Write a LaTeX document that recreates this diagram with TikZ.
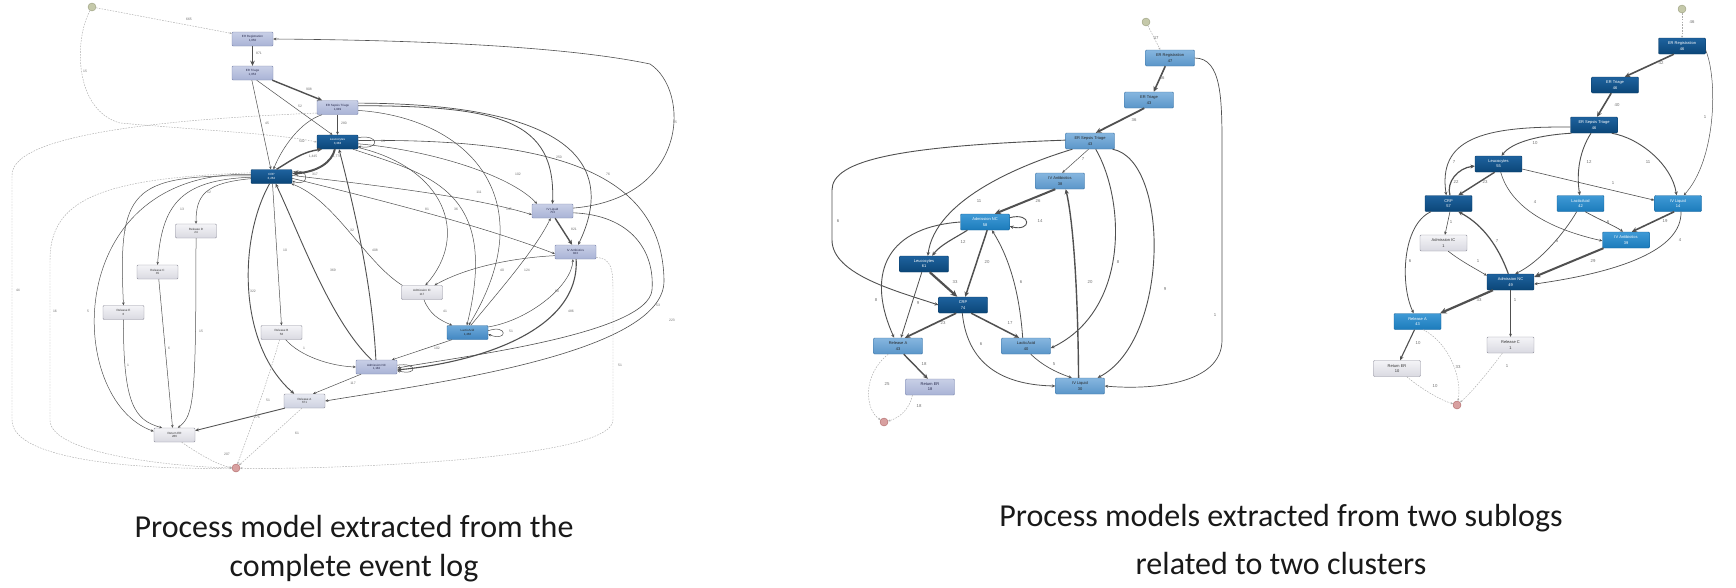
\documentclass[tikz,border=0pt]{standalone}
\usepackage{fontspec}
\setmainfont{Carlito}
\newfontfamily\ar{Liberation Sans}
\usetikzlibrary{arrows.meta}
\definecolor{lavT}{HTML}{C8CFE6}\definecolor{lavB}{HTML}{A9B3D6}\definecolor{lavD}{HTML}{7C87AE}\definecolor{lavX}{HTML}{26284A}
\definecolor{dkT}{HTML}{1E629E}\definecolor{dkB}{HTML}{0B4678}\definecolor{dkD}{HTML}{083A66}
\definecolor{medT}{HTML}{6FAADA}\definecolor{medB}{HTML}{4287C2}\definecolor{medD}{HTML}{2E6C9F}
\definecolor{grT}{HTML}{F4F4F7}\definecolor{grB}{HTML}{D9D9E1}\definecolor{grD}{HTML}{8F8F9C}
\definecolor{grlT}{HTML}{E8EAF2}\definecolor{grlB}{HTML}{CDD1E0}
\definecolor{mdT}{HTML}{86B6DF}\definecolor{mdB}{HTML}{5B96C9}\definecolor{mdD}{HTML}{3C73A4}
\definecolor{brtT}{HTML}{3F9AD6}\definecolor{brtB}{HTML}{1C7BBB}\definecolor{brtD}{HTML}{14629A}
\definecolor{edgeC}{HTML}{505050}\definecolor{dashC}{HTML}{ABABAB}\definecolor{labC}{HTML}{707070}
\definecolor{stF}{HTML}{C5C9AA}\definecolor{stD}{HTML}{9A9E7E}\definecolor{enF}{HTML}{D8A0A0}\definecolor{enD}{HTML}{B06868}
\begin{document}
\begin{tikzpicture}[x=1pt,y=-1pt,
 nd/.style={rectangle, rounded corners=1pt, inner sep=0pt, align=center, line width=0.4pt},
 lw/.style={nd, minimum width=41pt, minimum height=14pt, font=\ar\fontsize{3}{3.8}\selectfont},
 mw/.style={nd, minimum width=49pt, minimum height=16pt, font=\ar\fontsize{4}{5.2}\selectfont},
 rw/.style={nd, minimum width=47pt, minimum height=16pt, font=\ar\fontsize{4}{5.2}\selectfont},
 lav/.style={top color=lavT,bottom color=lavB,draw=lavD,text=lavX},
 dk/.style={top color=dkT,bottom color=dkB,draw=dkD,text=white},
 med/.style={top color=medT,bottom color=medB,draw=medD,text=black!85},
 gr/.style={top color=grT,bottom color=grB,draw=grD,text=black!80},
 grl/.style={top color=grlT,bottom color=grlB,draw=grD,text=black!80},
 mdb/.style={top color=mdT,bottom color=mdB,draw=mdD,text=black!85},
 brt/.style={top color=brtT,bottom color=brtB,draw=brtD,text=white},
 stc/.style={circle, minimum size=8pt, inner sep=0pt, fill=stF, draw=stD, line width=0.4pt},
 enc/.style={circle, minimum size=8pt, inner sep=0pt, fill=enF, draw=enD, line width=0.4pt},
 ed/.style={draw=edgeC, line width=#1, -{Stealth[length=1.8pt 2.2, width=1.6pt 2]}},
 ed/.default=0.5pt,
 dsh/.style={draw=dashC, line width=0.45pt, dash pattern=on 1.6pt off 1.2pt, -{Stealth[length=2.2pt, width=2pt]}},
 lb/.style={font=\ar\fontsize{3.4}{4}\selectfont, text=labC, inner sep=0.3pt},
 lbm/.style={font=\ar\fontsize{4.3}{5}\selectfont, text=labC, inner sep=0.3pt},
 capt/.style={font=\fontsize{32}{38}\selectfont, text=black!90, inner sep=0pt}
]
\useasboundingbox (0,0) rectangle (1736,587);
\fill[white] (0,0) rectangle (1736,587);

%%%%%%%% LEFT GRAPH
\node[lw,lav] (aREG) at (252.5,39) {ER Registration\\1,050};
\node[lw,lav] (aTRI) at (252.5,73) {ER Triage\\1,053};
\node[lw,lav] (aSEP) at (337.5,107.5) {ER Sepsis Triage\\1,049};
\node[lw,dk] (aLEU) at (337.5,142) {Leucocytes\\3,383};
\node[lw,dk] (aCRP) at (271.5,176.5) {CRP\\3,262};
\node[lw,gr] (aRD) at (196,231) {Release D\\24};
\node[lw,gr] (aRC) at (157.5,272) {Release C\\35};
\node[lw,gr] (aRE) at (123.5,312.5) {Release E\\6};
\node[lw,gr] (aRB) at (281.5,332.5) {Release B\\56};
\node[lw,grl] (aRA) at (304.5,401) {Release A\\671};
\node[lw,gr] (aRER) at (174.5,435) {Return ER\\286};
\node[lw,lav] (aIVL) at (552.5,211) {IV Liquid\\753};
\node[lw,lav] (aIVA) at (575.5,252) {IV Antibiotics\\823};
\node[lw,gr] (aAIC) at (422,292.5) {Admission IC\\117};
\node[lw,med] (aLAC) at (467.5,332.5) {LacticAcid\\1,466};
\node[lw,lav] (aANC) at (376.5,367) {Admission NC\\1,182};
\node[stc] (aS) at (92,7) {};
\node[enc] (aE) at (236,468) {};

\draw[dsh] (aS) -- (aREG.165);
\draw[dsh] (aS) .. controls (74,40) and (74,110) .. (120,123) .. controls (200,130) and (280,134) .. (aLEU.west);
\draw[ed=1.5pt] (aREG) -- (aTRI);
\draw[ed=1.4pt] (aTRI.-20) -- (aSEP.155);
\draw[ed] (aTRI.-60) -- (aLEU.125);
\draw[ed] (aTRI.-95) -- (aCRP.95);
\draw[ed] (aSEP.205) .. controls (300,122) and (282,148) .. (aCRP.75);
\draw[ed=0.6pt] (aSEP) -- (aLEU);
\draw[ed=1.4pt] (aCRP.55) .. controls (292,160) and (302,152) .. (aLEU.205);
\draw[ed=2pt] (aLEU.250) .. controls (332,162) and (318,172) .. (aCRP.8);
\draw[ed] (aCRP.12) .. controls (310,166) and (310,188) .. (aCRP.-12);
\draw[ed] (aLEU.12) .. controls (380,134) and (380,150) .. (aLEU.-12);
\draw[ed=0.8pt] (aSEP.5) .. controls (500,106) and (556,120) .. (aIVL.north);
\draw[ed=0.7pt] (aSEP.12) .. controls (590,104) and (612,175) .. (aIVA.70);
\draw[ed] (aSEP.-8) .. controls (470,118) and (545,200) .. (aLAC.80);
\draw[ed] (aLEU.-25) .. controls (430,175) and (500,190) .. (aLAC.95);
\draw[ed] (aLEU.-5) .. controls (430,150) and (510,175) .. (aIVL.155);
\draw[ed=0.6pt] (aLEU.4) .. controls (560,138) and (662,175) .. (664,280) .. controls (666,355) and (420,385) .. (aRA.east);
\draw[ed=0.6pt] (aIVL.-5) .. controls (630,215) and (655,250) .. (652,290) .. controls (648,335) and (450,358) .. (aANC.-3);
\draw[ed=0.6pt] (aIVL.8) .. controls (690,198) and (690,90) .. (650,64) .. controls (560,45) and (400,40) .. (aREG.east);
\draw[ed=0.9pt] (aANC.95) .. controls (372,280) and (352,200) .. (aLEU.-78);
\draw[ed=0.9pt] (aANC.125) .. controls (330,320) and (300,235) .. (aCRP.-60);
\draw[ed] (aAIC.160) .. controls (365,262) and (335,200) .. (aCRP.-20);
\draw[ed] (aCRP.-5) .. controls (380,200) and (480,225) .. (aIVA.185);
\draw[ed] (aLEU.-15) .. controls (445,168) and (470,235) .. (aAIC.65);
\draw[ed] (aCRP.3) .. controls (380,186) and (470,196) .. (aIVL.190);
\draw[ed=1.4pt] (aIVL.-70) -- (aIVA.115);
\draw[ed] (aIVA.190) .. controls (510,258) and (465,268) .. (aAIC.30);
\draw[ed] (aLAC.65) .. controls (500,290) and (535,250) .. (aIVL.-105);
\draw[ed] (aLAC.15) .. controls (530,320) and (572,285) .. (aIVA.-110);
\draw[ed=1.1pt] (aIVA.-85) .. controls (580,330) and (480,362) .. (aANC.-8);
\draw[ed] (aAIC.-75) .. controls (430,315) and (440,320) .. (aLAC.155);
\draw[ed] (aLAC.5) .. controls (508,324) and (508,342) .. (aLAC.-5);
\draw[ed] (aLAC.205) -- (aANC.25);
\draw[ed] (aANC.5) .. controls (418,362) and (418,376) .. (aANC.-10);
\draw[ed] (aANC.205) -- (aRA.40);
\draw[ed] (aRB.-60) .. controls (300,356) and (330,366) .. (aANC.180);
\draw[ed] (aCRP.-82) -- (aRB.north);
\draw[ed=0.9pt] (aCRP.-105) .. controls (238,240) and (238,345) .. (aRA.145);
\draw[ed] (aCRP.186) .. controls (205,183) and (196,195) .. (aRD.north);
\draw[ed] (aCRP.182) .. controls (180,180) and (162,205) .. (aRC.north);
\draw[ed] (aCRP.178) .. controls (130,175) and (118,190) .. (aRE.north);
\draw[ed] (aCRP.174) .. controls (60,170) and (65,400) .. (aRER.170);
\draw[ed] (aRE.south) .. controls (123,405) and (135,420) .. (aRER.150);
\draw[ed] (aRC.-80) -- (aRER.105);
\draw[ed] (aRD.south) .. controls (196,400) and (194,415) .. (aRER.65);
\draw[ed=0.9pt] (aRA.200) -- (aRER.12);
\draw[dsh] (aRB.-105) .. controls (268,380) and (250,430) .. (aE);
\draw[dsh] (aRA.-110) -- (aE);
\draw[dsh] (aRER.-45) .. controls (200,455) and (220,466) .. (aE);
\draw[dsh] (aIVA.-15) .. controls (612,258) and (613,270) .. (613,292) -- (613,420) .. controls (613,462) and (300,470) .. (aE);
\draw[dsh] (aSEP.195) .. controls (200,118) and (12,130) .. (12,175) -- (12,420) .. controls (12,462) and (150,470) .. (aE);
\draw[dsh] (aCRP.170) .. controls (100,178) and (50,200) .. (50,260) -- (50,420) .. controls (50,455) and (180,467) .. (aE);

\node[lb] (la1) at (189,19) {665};
\node[lb] (la2) at (85,71) {15};
\node[lb] (la3) at (259,53) {871};
\node[lb] (la4) at (309,89) {908};
\node[lb] (la5) at (300,106) {52};
\node[lb] (la6) at (267,123) {45};
\node[lb] (la7) at (302,141) {502};
\node[lb] (la8) at (313,157) {1,445};
\node[lb] (la9) at (315,174) {317};
\node[lb] (la10) at (344,123) {280};
\node[lb] (la11) at (383,141) {63};
\node[lb] (la12) at (337,157) {1,778};
\node[lb] (la13) at (559,157) {250};
\node[lb] (la14) at (518,174) {102};
\node[lb] (la15) at (608,174) {76};
\node[lb] (la16) at (479,192) {111};
\node[lb] (la17) at (427,209) {81};
\node[lb] (la18) at (456,209) {36};
\node[lb] (la19) at (509,209) {145};
\node[lb] (la20) at (209,192) {12};
\node[lb] (la21) at (182,209) {13};
\node[lb] (la22) at (675,122) {95};
\node[lb] (la23) at (125,230) {5};
\node[lb] (la24) at (285,250) {10};
\node[lb] (la25) at (253,291) {322};
\node[lb] (la26) at (88,311) {5};
\node[lb] (la27) at (55,311) {16};
\node[lb] (la28) at (18,290) {44};
\node[lb] (la29) at (201,331) {15};
\node[lb] (la30) at (169,348) {6};
\node[lb] (la31) at (128,365) {1};
\node[lb] (la32) at (304,348) {1};
\node[lb] (la33) at (268,400) {51};
\node[lb] (la34) at (257,417) {275};
\node[lb] (la35) at (574,229) {821};
\node[lb] (la36) at (352,230) {32};
\node[lb] (la37) at (375,250) {408};
\node[lb] (la38) at (333,270) {369};
\node[lb] (la39) at (502,270) {40};
\node[lb] (la40) at (527,270) {124};
\node[lb] (la41) at (445,311) {41};
\node[lb] (la42) at (557,291) {60};
\node[lb] (la43) at (571,311) {486};
\node[lb] (la44) at (511,331) {51};
\node[lb] (la45) at (437,348) {102};
\node[lb] (la46) at (353,383) {117};
\node[lb] (la47) at (620,365) {51};
\node[lb] (la48) at (658,305) {53};
\node[lb] (la49) at (672,320) {223};
\node[lb] (la50) at (297,433) {61};
\node[lb] (la51) at (227,454) {207};

%%%%%%%% MIDDLE GRAPH
\node[stc] (bS) at (1146,22) {};
\node[mw,mdb] (bREG) at (1170,58) {ER Registration\\47};
\node[mw,mdb] (bTRI) at (1149,100) {ER Triage\\43};
\node[mw,mdb] (bSEP) at (1090,141) {ER Sepsis Triage\\43};
\node[mw,mdb] (bIVA) at (1060,181) {IV Antibiotics\\38};
\node[mw,brt] (bANC) at (985,222) {Admission NC\\58};
\node[mw,dk] (bLEU) at (924,264) {Leucocytes\\61};
\node[mw,dk] (bCRP) at (963,305) {CRP\\74};
\node[mw,mdb] (bRA) at (898,346) {Release A\\43};
\node[mw,mdb] (bLAC) at (1026,346) {LacticAcid\\40};
\node[mw,lav] (bRER) at (930,387) {Return ER\\18};
\node[mw,mdb] (bIVL) at (1080,386) {IV Liquid\\30};
\node[enc] (bE) at (884,422) {};

\draw[dsh] (bS) -- (bREG.140);
\draw[ed=1.6pt] (bREG.-120) -- (bTRI.60);
\draw[ed=1.8pt] (bTRI.-120) -- (bSEP.55);
\draw[ed] (bSEP.-100) -- (bIVA.75);
\draw[ed=0.9pt] (bSEP.178) .. controls (900,146) and (832,160) .. (832,190) -- (832,240) .. controls (832,275) and (900,292) .. (bCRP.180);
\draw[ed=0.9pt] (bSEP.205) .. controls (1020,165) and (935,200) .. (bLEU.65);
\draw[ed=0.9pt] (bSEP.-55) .. controls (1125,200) and (1130,310) .. (bLAC.-5);
\draw[ed=0.9pt] (bSEP.-20) .. controls (1170,160) and (1170,340) .. (bIVL.25);
\draw[ed=0.7pt] (bREG.0) .. controls (1222,58) and (1222,100) .. (1222,150) -- (1222,340) .. controls (1222,385) and (1150,390) .. (bIVL.0);
\draw[ed=2pt] (bIVA.-120) -- (bANC.40);
\draw[ed=0.9pt] (bANC.10) .. controls (1032,212) and (1032,232) .. (bANC.-10);
\draw[ed=1.1pt] (bANC.205) .. controls (955,238) and (940,245) .. (bLEU.45);
\draw[ed=1.5pt] (bANC.-75) -- (bCRP.75);
\draw[ed=0.9pt] (bANC.180) .. controls (880,228) and (868,280) .. (bRA.115);
\draw[ed=2.2pt] (bLEU.-55) -- (bCRP.125);
\draw[ed=0.8pt] (bLEU.-105) -- (bRA.70);
\draw[ed=1.7pt] (bCRP.-130) -- (bRA.50);
\draw[ed=1.5pt] (bCRP.-45) -- (bLAC.130);
\draw[ed=0.8pt] (bCRP.-95) .. controls (968,370) and (1010,385) .. (bIVL.180);
\draw[ed=0.8pt] (bLAC.112) .. controls (1020,300) and (1012,262) .. (bANC.-50);
\draw[ed=0.7pt] (bLAC.-60) .. controls (1042,365) and (1055,372) .. (bIVL.135);
\draw[ed=1.4pt] (bIVL.100) .. controls (1078,300) and (1074,225) .. (bIVA.-55);
\draw[ed=1.4pt] (bRA.-55) -- (bRER.105);
\draw[dsh] (bRA.-140) .. controls (862,375) and (865,410) .. (bE);
\draw[dsh] (bRER.-155) .. controls (910,408) and (900,418) .. (bE);

\node[lbm] (lb1) at (1156,38) {47};
\node[lbm] (lb2) at (1162,78) {36};
\node[lbm] (lb3) at (1134,120) {36};
\node[lbm] (lb4) at (1083,159) {7};
\node[lbm] (lb5) at (838,221) {6};
\node[lbm] (lb6) at (979,201) {11};
\node[lbm] (lb7) at (1118,262) {8};
\node[lbm] (lb8) at (1165,289) {9};
\node[lbm] (lb9) at (1215,315) {1};
\node[lbm] (lb10) at (1038,201) {26};
\node[lbm] (lb11) at (1040,221) {14};
\node[lbm] (lb12) at (963,242) {12};
\node[lbm] (lb13) at (987,262) {20};
\node[lbm] (lb14) at (876,300) {8};
\node[lbm] (lb15) at (955,282) {33};
\node[lbm] (lb16) at (918,303) {9};
\node[lbm] (lb17) at (943,323) {23};
\node[lbm] (lb18) at (1010,323) {17};
\node[lbm] (lb19) at (1021,282) {6};
\node[lbm] (lb20) at (1090,282) {20};
\node[lbm] (lb21) at (981,344) {6};
\node[lbm] (lb22) at (1054,364) {5};
\node[lbm] (lb23) at (924,364) {18};
\node[lbm] (lb24) at (887,384) {25};
\node[lbm] (lb25) at (919,406) {18};

%%%%%%%% RIGHT GRAPH
\node[stc] (cS) at (1682,9) {};
\node[rw,dk] (cREG) at (1682,46) {ER Registration\\46};
\node[rw,dk] (cTRI) at (1615,85) {ER Triage\\46};
\node[rw,dk] (cSEP) at (1594,125) {ER Sepsis Triage\\46};
\node[rw,dk] (cLEU) at (1498.5,164) {Leucocytes\\55};
\node[rw,dk] (cCRP) at (1448.5,203.5) {CRP\\57};
\node[rw,brt] (cLAC) at (1580.5,203.5) {LacticAcid\\42};
\node[rw,brt] (cIVL) at (1678,203.5) {IV Liquid\\14};
\node[rw,gr] (cAIC) at (1443.5,243) {Admission IC\\1};
\node[rw,brt] (cIVA) at (1626,240) {IV Antibiotics\\39};
\node[rw,dk] (cANC) at (1510.5,282) {Admission NC\\49};
\node[rw,brt] (cRA) at (1417.5,321.5) {Release A\\43};
\node[rw,gr] (cRC) at (1510.5,345) {Release C\\1};
\node[rw,gr] (cRER) at (1397,368.5) {Return ER\\10};
\node[enc] (cE) at (1457,405) {};

\draw[dsh] (cS) -- (cREG);
\draw[ed=1.6pt] (cREG.-135) -- (cTRI.40);
\draw[ed=1.6pt] (cTRI.-115) -- (cSEP.70);
\draw[ed=0.9pt] (cSEP.200) .. controls (1540,135) and (1512,142) .. (cLEU.70);
\draw[ed=0.8pt] (cSEP.185) .. controls (1480,126) and (1438,140) .. (cCRP.105);
\draw[ed=0.9pt] (cSEP.-110) .. controls (1580,150) and (1576,172) .. (cLAC.95);
\draw[ed=0.9pt] (cSEP.-25) .. controls (1640,138) and (1672,165) .. (cIVL.100);
\draw[ed=0.5pt] (cREG.-10) .. controls (1718,80) and (1716,160) .. (cIVL.55);
\draw[ed=1.2pt] (cCRP.80) .. controls (1446,182) and (1458,168) .. (cLEU.185);
\draw[ed=1.4pt] (cLEU.-115) -- (cCRP.40);
\draw[ed=0.6pt] (cLEU.-12) -- (cIVL.172);
\draw[ed=0.6pt] (cLEU.-75) .. controls (1510,205) and (1545,228) .. (cIVA.182);
\draw[ed=0.6pt] (cCRP.-80) -- (cAIC.80);
\draw[ed=0.8pt] (cCRP.205) .. controls (1402,225) and (1400,285) .. (cRA.115);
\draw[ed=0.6pt] (cAIC.-60) .. controls (1462,262) and (1478,270) .. (cANC.165);
\draw[ed=1.2pt] (cANC.105) .. controls (1496,240) and (1478,222) .. (cCRP.-40);
\draw[ed=0.7pt] (cLAC.-115) .. controls (1565,232) and (1540,262) .. (cANC.60);
\draw[ed=0.7pt] (cLAC.-60) .. controls (1600,220) and (1615,226) .. (cIVA.110);
\draw[ed=1.6pt] (cIVL.-115) -- (cIVA.55);
\draw[ed=0.7pt] (cIVL.-70) .. controls (1682,250) and (1620,272) .. (cANC.-5);
\draw[ed=2pt] (cIVA.200) -- (cANC.12);
\draw[ed=2.2pt] (cANC.205) -- (cRA.20);
\draw[ed=0.6pt] (cANC.-90) -- (cRC.90);
\draw[ed=1.1pt] (cRA.-110) -- (cRER.70);
\draw[dsh] (cRA.-55) .. controls (1452,345) and (1462,382) .. (cE);
\draw[dsh] (cRER.-40) .. controls (1420,388) and (1440,400) .. (cE);
\draw[dsh] (cRC.-135) .. controls (1490,370) and (1472,392) .. (cE);

\node[lbm] (lc1) at (1692,22) {46};
\node[lbm] (lc2) at (1661,63) {42};
\node[lbm] (lc3) at (1617,105) {40};
\node[lbm] (lc4) at (1535,143) {10};
\node[lbm] (lc5) at (1454,162) {7};
\node[lbm] (lc6) at (1589,162) {12};
\node[lbm] (lc7) at (1648,162) {11};
\node[lbm] (lc8) at (1705,117) {1};
\node[lbm] (lc9) at (1456,182) {22};
\node[lbm] (lc10) at (1485,182) {23};
\node[lbm] (lc11) at (1613,183) {1};
\node[lbm] (lc12) at (1535,202) {4};
\node[lbm] (lc13) at (1451,222) {1};
\node[lbm] (lc14) at (1410,261) {6};
\node[lbm] (lc15) at (1497,241) {7};
\node[lbm] (lc16) at (1478,261) {1};
\node[lbm] (lc17) at (1557,241) {5};
\node[lbm] (lc18) at (1608,222) {6};
\node[lbm] (lc19) at (1665,221) {19};
\node[lbm] (lc20) at (1680,240) {4};
\node[lbm] (lc21) at (1593,261) {29};
\node[lbm] (lc22) at (1479,300) {33};
\node[lbm] (lc23) at (1515,300) {1};
\node[lbm] (lc24) at (1418,343) {10};
\node[lbm] (lc25) at (1458,367) {33};
\node[lbm] (lc26) at (1435,386) {10};
\node[lbm] (lc27) at (1507,366) {1};

%%%%%%%% CAPTIONS
\node[capt] (cap1) at (354,526) {Process model extracted from the};
\node[capt] (cap2) at (354,568) {complete event log};
\node[capt] (cap3) at (1281,518) {Process models extracted from two sublogs};
\node[capt] (cap4) at (1281,563) {related to two clusters};
\end{tikzpicture}
\end{document}
